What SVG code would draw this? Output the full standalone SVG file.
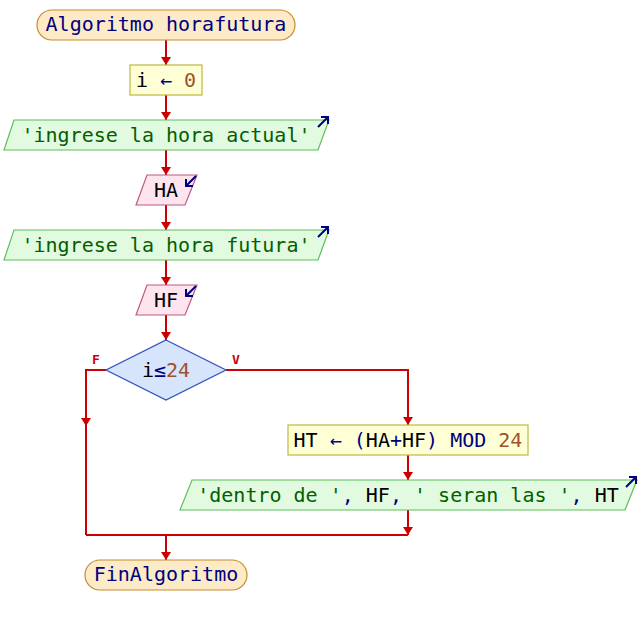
<svg xmlns="http://www.w3.org/2000/svg" width="640" height="625" viewBox="0 0 640 625">
<style>
text{font-family:"DejaVu Sans Mono","Liberation Mono",monospace;font-size:20px;text-anchor:middle}
.term{fill:#fdeac6;stroke:#c88a30;stroke-width:1.2}
.asg{fill:#ffffd6;stroke:#c0b840;stroke-width:1.2}
.out{fill:#e2fbe0;stroke:#5cbf5c;stroke-width:1.2}
.inp{fill:#fde4ef;stroke:#c05a80;stroke-width:1.2}
.dec{fill:#d6e4fc;stroke:#3050c0;stroke-width:1.2}
.kw{fill:#000080}
.num{fill:#a0522d}
.str{fill:#006000}
.id{fill:#000}
.op{fill:#000080}
.flow{fill:none;stroke:#cc0000;stroke-width:2}
.icon{fill:none;stroke:#000080;stroke-width:2}
.lbl{fill:#cc0000;font-size:13px;font-weight:bold}
</style>
<defs>
<marker id="ah" viewBox="0 0 8 10" refX="8" refY="5" markerWidth="8" markerHeight="10" markerUnits="userSpaceOnUse" orient="auto">
<path d="M0,0 L8,5 L0,10 Z" fill="#cc0000"/>
</marker>
</defs>
<g id="connectors">
<line class="flow" x1="166" y1="40" x2="166" y2="65" marker-end="url(#ah)"/>
<line class="flow" x1="166" y1="95" x2="166" y2="120" marker-end="url(#ah)"/>
<line class="flow" x1="166" y1="150" x2="166" y2="175" marker-end="url(#ah)"/>
<line class="flow" x1="166" y1="205" x2="166" y2="230" marker-end="url(#ah)"/>
<line class="flow" x1="166" y1="260" x2="166" y2="285" marker-end="url(#ah)"/>
<line class="flow" x1="166" y1="315" x2="166" y2="340" marker-end="url(#ah)"/>
<polyline class="flow" points="106,370 86,370 86,535"/>
<path d="M81,418 L91,418 L86,426 Z" fill="#cc0000"/>
<polyline class="flow" points="226,370 408,370 408,425" marker-end="url(#ah)"/>
<line class="flow" x1="408" y1="455" x2="408" y2="480" marker-end="url(#ah)"/>
<line class="flow" x1="408" y1="510" x2="408" y2="535" marker-end="url(#ah)"/>
<line class="flow" x1="86" y1="535" x2="408" y2="535"/>
<line class="flow" x1="166" y1="535" x2="166" y2="560" marker-end="url(#ah)"/>
<text class="lbl" x="96" y="364">F</text>
<text class="lbl" x="236" y="364">V</text>
</g>
<g id="start">
<rect class="term" x="37" y="10" width="258" height="30" rx="15"/>
<text class="kw" x="166" y="31">Algoritmo horafutura</text>
</g>
<g id="assign-i">
<rect class="asg" x="130" y="65" width="72" height="30"/>
<text x="166" y="87"><tspan class="id">i</tspan><tspan class="op"> ← </tspan><tspan class="num">0</tspan></text>
</g>
<g id="out1">
<polygon class="out" points="14,120 329,120 318,150 4,150"/>
<text class="str" x="166" y="142">'ingrese la hora actual'</text>
<path class="icon" d="M318,127 L328,117 M321,117 L328,117 L328,124"/>
</g>
<g id="in-HA">
<polygon class="inp" points="147,175 197,175 185,205 136,205"/>
<text class="id" x="166" y="197">HA</text>
<path class="icon" d="M196,176 L186,186 M186,179 L186,186 L193,186"/>
</g>
<g id="out2">
<polygon class="out" points="14,230 329,230 318,260 4,260"/>
<text class="str" x="166" y="252">'ingrese la hora futura'</text>
<path class="icon" d="M318,237 L328,227 M321,227 L328,227 L328,234"/>
</g>
<g id="in-HF">
<polygon class="inp" points="147,285 197,285 185,315 136,315"/>
<text class="id" x="166" y="307">HF</text>
<path class="icon" d="M196,286 L186,296 M186,289 L186,296 L193,296"/>
</g>
<g id="decision">
<polygon class="dec" points="166,340 226,370 166,400 106,370"/>
<text x="166" y="377"><tspan class="id">i</tspan><tspan class="op">≤</tspan><tspan class="num">24</tspan></text>
</g>
<g id="assign-HT">
<rect class="asg" x="288" y="425" width="240" height="30"/>
<text x="408" y="447"><tspan class="id">HT</tspan><tspan class="op"> ← (</tspan><tspan class="id">HA</tspan><tspan class="op">+</tspan><tspan class="id">HF</tspan><tspan class="op">) MOD </tspan><tspan class="num">24</tspan></text>
</g>
<g id="out3">
<polygon class="out" points="192,480 637,480 625,510 180,510"/>
<text x="408" y="502"><tspan class="str">'dentro de '</tspan><tspan class="op">, </tspan><tspan class="id">HF</tspan><tspan class="op">, </tspan><tspan class="str">' seran las '</tspan><tspan class="op">, </tspan><tspan class="id">HT</tspan></text>
<path class="icon" d="M626,487 L636,477 M629,477 L636,477 L636,484"/>
</g>
<g id="end">
<rect class="term" x="85" y="560" width="162" height="30" rx="15"/>
<text class="kw" x="166" y="581">FinAlgoritmo</text>
</g>
</svg>
